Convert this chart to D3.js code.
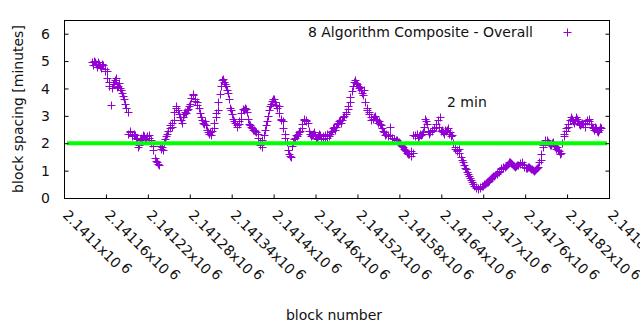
<!DOCTYPE html>
<head>
<meta charset="utf-8">
<style>
    body { margin: 0; background: #fff; }
    text { font-family: "DejaVu Sans", sans-serif; }
</style>
<script src="https://d3js.org/d3.v7.min.js"></script>
</head>
<body>
<script>
// block spacing, 8 algorithm composite
// spacing: blocks firstBlock, +3, +6 ...   spacingB: the blocks one after those
var firstBlock = 2141140;
var blockStep = 3;
var spacing = [
  4.95, 5.02, 4.88, 4.95, 4.82, 4.9, 4.7, 4.62, 4.25, 3.38,
  4.15, 4.3, 4.05, 4.2, 3.95, 3.72, 3.45, 3.15, 2.45, 2.3,
  2.35, 2.2, 1.85, 2.1, 2.15, 2.25, 2.2, 2.3, 2.1, 1.9,
  1.45, 1.3, 1.2, 1.8, 1.75, 2.15, 2.35, 2.55, 2.6, 2.85,
  3.35, 3.2, 2.95, 2.75, 3.05, 3.1, 3.25, 3.45, 3.8, 3.6,
  3.5, 3.3, 2.95, 2.75, 2.8, 2.5, 2.35, 2.3, 2.55, 2.95,
  3.2, 3.8, 4.3, 4.25, 4.1, 3.85, 3.3, 3.05, 2.8, 2.65,
  2.7, 2.9, 3.25, 3.3, 3.15, 2.7, 2.6, 2.5, 2.45, 2.35,
  2.05, 1.85, 2.3, 2.65, 3.0, 3.35, 3.55, 3.6, 3.4, 3.35,
  2.9, 2.8, 2.35, 2.05, 1.6, 1.5, 2.05, 2.2, 2.25, 2.4,
  2.55, 2.85, 2.85, 2.75, 2.35, 2.3, 2.4, 2.2, 2.25, 2.3,
  2.15, 2.2, 2.35, 2.25, 2.4, 2.55, 2.5, 2.7, 2.8, 2.75,
  2.95, 3.05, 3.25, 3.5, 3.9, 4.25, 4.2, 4.1, 4.05, 3.85,
  3.95, 3.3, 3.15, 2.95, 2.9, 3.0, 2.85, 2.8, 2.65, 2.45,
  2.3, 2.25, 2.6, 2.2, 2.15, 2.1, 2.05, 2.0, 1.9, 1.8,
  1.7, 1.6, 1.55, 1.65, 2.25, 2.35, 2.25, 2.3, 2.4, 2.9,
  2.7, 2.35, 2.45, 2.55, 2.6, 2.85, 2.95, 2.5, 2.35, 2.45,
  2.55, 2.4, 2.3, 1.85, 1.75, 1.8, 1.5, 1.3, 1.1, 0.95,
  0.8, 0.65, 0.5, 0.4, 0.35, 0.38, 0.42, 0.5, 0.55, 0.6,
  0.68, 0.75, 0.82, 0.88, 0.95, 1.05, 1.1, 1.15, 1.22, 1.3,
  1.28, 1.2, 1.15, 1.2, 1.25, 1.3, 1.2, 1.1, 1.12, 1.08,
  1.05, 1.0, 1.05, 1.15, 1.4, 1.85, 2.05, 2.1, 2.0, 1.95,
  2.05, 1.9, 1.85, 1.7, 1.65, 2.25, 2.45, 2.6, 2.85, 2.9,
  2.75, 2.95, 2.8, 2.65, 2.75, 2.6, 2.85, 2.9, 2.7, 2.55,
  2.6, 2.45, 2.5, 2.55
];
var spacingB = [
  4.85, 4.95, 4.78, 4.9, 4.75, 4.85, 4.65, 4.4, 4.1, 4.0,
  4.25, 4.4, 4.1, 4.0, 3.85, 3.6, 3.3, 2.35, 2.4, 2.25,
  2.3, 2.15, 1.95, 2.2, 2.3, 2.15, 2.25, 2.2, 2.0, 1.75,
  1.35, 1.25, 1.9, 1.85, 2.05, 2.25, 2.45, 2.65, 2.75, 3.15,
  3.3, 3.05, 2.85, 2.95, 3.15, 3.2, 3.35, 3.65, 3.75, 3.55,
  3.4, 3.1, 2.85, 2.7, 2.65, 2.4, 2.4, 2.45, 2.75, 3.1,
  3.5, 4.1, 4.35, 4.15, 3.95, 3.6, 3.2, 2.9, 2.75, 2.6,
  2.8, 3.1, 3.2, 3.25, 2.9, 2.65, 2.55, 2.5, 2.4, 2.2,
  1.95, 2.1, 2.5, 2.8, 3.2, 3.45, 3.6, 3.5, 3.3, 3.1,
  2.85, 2.55, 2.2, 1.75, 1.55, 1.9, 2.15, 2.3, 2.35, 2.45,
  2.7, 2.9, 2.8, 2.45, 2.25, 2.35, 2.3, 2.15, 2.35, 2.2,
  2.25, 2.3, 2.2, 2.35, 2.45, 2.6, 2.6, 2.75, 2.85, 2.85,
  3.0, 3.15, 3.35, 3.7, 4.1, 4.3, 4.15, 4.0, 3.95, 3.75,
  3.5, 3.2, 3.05, 2.85, 2.95, 2.9, 2.75, 2.7, 2.55, 2.4,
  2.35, 2.3, 2.3, 2.2, 2.15, 2.1, 2.05, 1.95, 1.85, 1.75,
  1.65, 1.6, 1.7, 2.3, 2.3, 2.2, 2.35, 2.35, 2.6, 2.8,
  2.45, 2.4, 2.5, 2.55, 2.7, 2.6, 2.45, 2.4, 2.5, 2.5,
  2.35, 2.25, 2.0, 1.8, 1.7, 1.65, 1.4, 1.2, 1.05, 0.88,
  0.72, 0.58, 0.45, 0.38, 0.33, 0.4, 0.45, 0.52, 0.58, 0.63,
  0.72, 0.8, 0.85, 0.92, 1.0, 1.08, 1.12, 1.18, 1.25, 1.32,
  1.25, 1.18, 1.17, 1.22, 1.28, 1.25, 1.15, 1.08, 1.12, 1.05,
  1.02, 1.03, 1.1, 1.3, 1.6, 1.95, 2.1, 2.05, 1.95, 2.0,
  1.95, 1.8, 1.75, 1.6, 2.0, 2.35, 2.55, 2.7, 2.95, 2.8,
  2.85, 2.9, 2.7, 2.7, 2.7, 2.75, 2.8, 2.8, 2.6, 2.5,
  2.55, 2.4, 2.6
];
var yTicks = [0, 1, 2, 3, 4, 5, 6];
var xTicks = [2141100, 2141160, 2141220, 2141280, 2141340, 2141400, 2141460,
              2141520, 2141580, 2141640, 2141700, 2141760, 2141820, 2141880];
var xTickLabels = ["2.1411", "2.14116", "2.14122", "2.14128", "2.14134", "2.1414", "2.14146",
                   "2.14152", "2.14158", "2.14164", "2.1417", "2.14176", "2.14182", "2.14188"];
var targetMinutes = 2;

var data = spacing.map(function(v, i) {
    return {block: firstBlock + i * blockStep, value: v};
}).concat(spacingB.map(function(v, i) {
    return {block: firstBlock + 1 + i * blockStep, value: v};
}));

var width = 640, height = 330;
// note: "top" is taken by window.top, so plot edges get their own names
var plotLeft = 64, plotRight = 609, plotTop = 20, plotBottom = 198;

var x = d3.scaleLinear().domain([2141100, 2141880]).range([plotLeft, plotRight]);
var y = d3.scaleLinear().domain([0, 6.5]).range([plotBottom, plotTop]);

var svg = d3.select("body").append("svg")
    .attr("width", width)
    .attr("height", height);

// points
var pts = svg.append("g")
    .attr("stroke", "#9400d3")
    .attr("stroke-width", 1)
    .attr("fill", "none");

pts.selectAll("path")
    .data(data)
  .enter().append("path")
    .attr("d", function(d) {
        var px = Math.round(x(d.block)) + 0.5, py = Math.round(y(d.value)) + 0.5;
        return "M" + (px - 4) + "," + py + "H" + (px + 4) +
               "M" + px + "," + (py - 4) + "V" + (py + 4);
    });

// 2 minute line
svg.append("line")
    .attr("x1", plotLeft + 3)
    .attr("x2", plotRight - 2)
    .attr("y1", y(targetMinutes))
    .attr("y2", y(targetMinutes))
    .attr("stroke", "#00ff00")
    .attr("stroke-width", 4);

svg.append("text")
    .attr("x", 447)
    .attr("y", 107)
    .style("font-size", "14px")
    .attr("fill", "#111")
    .text("2 min");

// frame
svg.append("rect")
    .attr("x", plotLeft + 0.5)
    .attr("y", plotTop + 0.5)
    .attr("width", plotRight - plotLeft)
    .attr("height", plotBottom - plotTop)
    .attr("fill", "none")
    .attr("stroke", "#000");

// y ticks (left and right, inward)
svg.append("g")
    .attr("transform", "translate(" + (plotLeft + 0.5) + ",0)")
    .call(d3.axisRight(y).tickValues(yTicks).tickSize(4).tickFormat(""))
    .call(function(g) { g.select(".domain").remove(); });

svg.append("g")
    .attr("transform", "translate(" + (plotRight + 0.5) + ",0)")
    .call(d3.axisLeft(y).tickValues(yTicks).tickSize(4).tickFormat(""))
    .call(function(g) { g.select(".domain").remove(); });

svg.append("g")
    .selectAll("text")
    .data(yTicks)
  .enter().append("text")
    .attr("x", 50)
    .attr("y", function(d) { return y(d); })
    .attr("dy", "0.36em")
    .attr("text-anchor", "end")
    .style("font-size", "14px")
    .attr("fill", "#111")
    .text(function(d) { return d; });

// x ticks (bottom, inward)
svg.append("g")
    .attr("transform", "translate(0," + (plotBottom + 0.5) + ")")
    .call(d3.axisTop(x).tickValues(xTicks).tickSize(4).tickFormat(""))
    .call(function(g) { g.select(".domain").remove(); });

var xl = svg.append("g")
    .selectAll("text")
    .data(xTicks)
  .enter().append("text")
    .attr("transform", function(d) { return "translate(" + (x(d) - 2) + ",216) rotate(45)"; })
    .style("font-size", "14px")
    .attr("fill", "#111");

xl.append("tspan").text(function(d, i) { return xTickLabels[i] + "x10"; });
xl.append("tspan").attr("dx", 3).attr("dy", -4).text("6");

// axis titles
svg.append("text")
    .attr("transform", "translate(23," + ((plotTop + plotBottom) / 2) + ") rotate(-90)")
    .attr("text-anchor", "middle")
    .style("font-size", "14px")
    .attr("fill", "#111")
    .text("block spacing [minutes]");

svg.append("text")
    .attr("x", 334)
    .attr("y", 320)
    .attr("text-anchor", "middle")
    .style("font-size", "14px")
    .attr("fill", "#111")
    .text("block number");

// legend
svg.append("text")
    .attr("x", 533)
    .attr("y", 37)
    .attr("text-anchor", "end")
    .style("font-size", "14px")
    .attr("fill", "#111")
    .text("8 Algorithm Composite - Overall");

svg.append("path")
    .attr("d", "M563.5,32.5H571.5M567.5,28.5V36.5")
    .attr("stroke", "#9400d3")
    .attr("fill", "none");
</script>
</body>
